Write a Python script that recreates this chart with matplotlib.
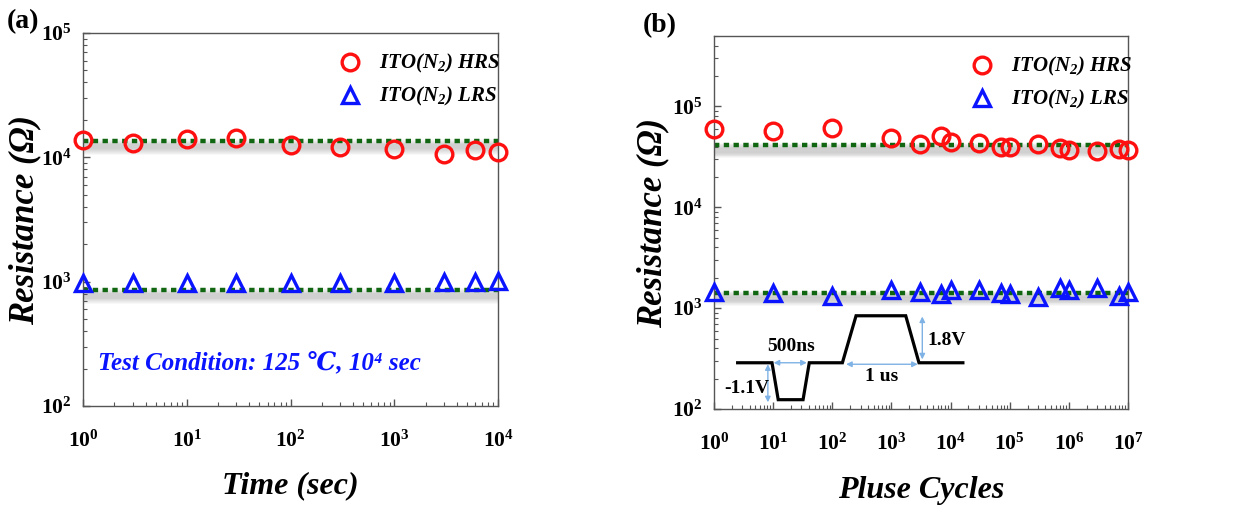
import numpy as np
import matplotlib
matplotlib.use("Agg")
import matplotlib.pyplot as plt
from matplotlib import transforms
from matplotlib.lines import Line2D
from matplotlib.ticker import LogLocator, NullFormatter

plt.rcParams['font.family'] = ['Liberation Serif', 'DejaVu Serif']
plt.rcParams['mathtext.default'] = 'regular'

# ---------------- data ----------------
time_a = [1, 3, 10, 30, 100, 300, 1000, 3000, 6000, 10000]
hrs_a = [13700, 13100, 14100, 14200, 12600, 12200, 11700, 10700, 11500, 11000]
lrs_a = [975, 975, 975, 975, 975, 975, 975, 1000, 1000, 1005]
hrs_a_fit = 13450
lrs_a_fit = 850

cycles_b = [1, 10, 100, 1000, 3000, 7000, 1e4, 3e4, 7e4, 1e5, 3e5, 7e5, 1e6, 3e6, 7e6, 1e7]
hrs_b = [59600, 57200, 61800, 49200, 42200, 51100, 44600, 43300, 40100, 40100,
         42200, 39100, 37100, 36200, 38300, 37100]
lrs_b = [1440, 1420, 1320, 1510, 1440, 1370, 1510, 1510, 1420, 1370,
         1300, 1590, 1530, 1570, 1320, 1440]
hrs_b_fit = 41600
lrs_b_fit = 1420

legend_labels = [r'ITO(N$_{2}$) HRS', r'ITO(N$_{2}$) LRS']

# inset pulse shape (axes fraction)
pulse_x = [0.057, 0.140, 0.155, 0.215, 0.230, 0.310, 0.343, 0.463, 0.495, 0.601]
pulse_y = [0.124, 0.124, 0.025, 0.025, 0.124, 0.124, 0.250, 0.250, 0.124, 0.124]

RED = '#ff1010'
BLUE = '#0a14ff'
GREEN = '#116611'
ARROW = '#7fb2e5'

fig = plt.figure(figsize=(12.6, 5.13), dpi=100)
ax_a = fig.add_axes([0.0659, 0.2086, 0.3294, 0.7271])
ax_b = fig.add_axes([0.5667, 0.2027, 0.3286, 0.7271])

tick_font = dict(family=['Liberation Serif', 'DejaVu Serif'], weight='bold', size=15.5)


def fit_line(ax, x0, x1, y):
    # soft shadow below the line
    for k in range(1, 13):
        tr = transforms.offset_copy(ax.transData, fig=fig, x=0, y=-k * 0.85, units='dots')
        ax.plot([x0, x1], [y, y], color='#7a7a7a', alpha=0.06, lw=4,
                solid_capstyle='butt', transform=tr, zorder=1)
    ax.plot([x0, x1], [y, y], color=GREEN, lw=3.2, linestyle=(0, (1.2, 1.0)),
            zorder=2, dash_capstyle='butt')


def style_axes(ax, xmin, xmax, ymin, ymax):
    ax.set_xscale('log')
    ax.set_yscale('log')
    ax.set_xlim(xmin, xmax)
    ax.set_ylim(ymin, ymax)
    for s in ax.spines.values():
        s.set_color('#555555')
        s.set_linewidth(1.0)
    ax.xaxis.set_major_locator(LogLocator(base=10, numticks=20))
    ax.xaxis.set_minor_locator(LogLocator(base=10, subs=np.arange(2, 10), numticks=20))
    ax.yaxis.set_major_locator(LogLocator(base=10, numticks=20))
    ax.yaxis.set_minor_locator(LogLocator(base=10, subs=np.arange(2, 10), numticks=20))
    ax.xaxis.set_minor_formatter(NullFormatter())
    ax.yaxis.set_minor_formatter(NullFormatter())
    ax.tick_params(which='both', direction='in', top=False, right=False, color='#555555')
    ax.tick_params(which='major', length=5, width=1)
    ax.tick_params(which='minor', length=3, width=0.8)
    ax.tick_params(axis='x', which='both', pad=18)
    ax.tick_params(axis='y', which='both', pad=8)
    for lab in ax.get_xticklabels() + ax.get_yticklabels():
        lab.set_fontproperties(matplotlib.font_manager.FontProperties(**tick_font))


def add_legend(ax, anchor):
    h = [Line2D([], [], marker='o', ls='none', mfc='none', mec=RED, mew=2.4, ms=12),
         Line2D([], [], marker='^', ls='none', mfc='none', mec=BLUE, mew=2.4, ms=11)]
    ax.legend(h, legend_labels, loc='upper left', bbox_to_anchor=anchor,
              frameon=False, handlelength=1.0, handletextpad=0.9, borderpad=0,
              borderaxespad=0, labelspacing=0.48,
              prop=dict(family=['Liberation Serif', 'DejaVu Serif'], weight='bold',
                        style='italic', size=15))


# ---------------- panel (a) ----------------
style_axes(ax_a, 1, 1e4, 1e2, 1e5)
fit_line(ax_a, 1, 1e4, hrs_a_fit)
fit_line(ax_a, 1, 1e4, lrs_a_fit)
ax_a.plot(time_a, hrs_a, ls='none', marker='o', mfc='none', mec=RED, mew=2.4, ms=12,
          zorder=4, clip_on=False)
ax_a.plot(time_a, lrs_a, ls='none', marker='^', mfc='none', mec=BLUE, mew=2.4, ms=11,
          zorder=4, clip_on=False)
add_legend(ax_a, (0.617, 0.948))
ax_a.set_xlabel('Time (sec)', fontsize=23, weight='bold', style='italic', labelpad=14)
ax_a.set_ylabel('Resistance (Ω)', fontsize=25, weight='bold', style='italic', labelpad=0)
ax_a.text(0.035, 0.095, 'Test Condition: 125 ℃, 10⁴ sec', transform=ax_a.transAxes,
          color=BLUE, fontsize=18, weight='bold', style='italic',
          family=['Liberation Serif', 'DejaVu Serif'])
fig.text(0.018, 0.957, '(a)', fontsize=20, weight='bold', ha='center', va='center')

# ---------------- panel (b) ----------------
style_axes(ax_b, 1, 1e7, 1e2, 5e5)
fit_line(ax_b, 1, 1e7, hrs_b_fit)
fit_line(ax_b, 1, 1e7, lrs_b_fit)
ax_b.plot(cycles_b, hrs_b, ls='none', marker='o', mfc='none', mec=RED, mew=2.4, ms=12,
          zorder=4, clip_on=False)
ax_b.plot(cycles_b, lrs_b, ls='none', marker='^', mfc='none', mec=BLUE, mew=2.4, ms=11,
          zorder=4, clip_on=False)
add_legend(ax_b, (0.622, 0.948))
ax_b.set_xlabel('Pluse Cycles', fontsize=23, weight='bold', style='italic', labelpad=15)
ax_b.set_ylabel('Resistance (Ω)', fontsize=25, weight='bold', style='italic', labelpad=2)
fig.text(0.524, 0.951, '(b)', fontsize=20, weight='bold', ha='center', va='center')

# inset pulse waveform
ax_b.plot(pulse_x, pulse_y, color='black', lw=2.3, transform=ax_b.transAxes, zorder=3,
          solid_joinstyle='miter')


def dbl_arrow(ax, p0, p1):
    ax.annotate('', xy=p1, xytext=p0, xycoords='axes fraction', textcoords='axes fraction',
                arrowprops=dict(arrowstyle='<|-|>', color=ARROW, lw=1.0,
                                mutation_scale=8, shrinkA=0, shrinkB=0))


dbl_arrow(ax_b, (0.144, 0.124), (0.224, 0.124))
dbl_arrow(ax_b, (0.130, 0.120), (0.130, 0.018))
dbl_arrow(ax_b, (0.319, 0.120), (0.492, 0.120))
dbl_arrow(ax_b, (0.503, 0.248), (0.503, 0.133))
lbl = dict(fontsize=14, weight='bold', ha='center', va='center', transform=ax_b.transAxes)
ax_b.text(0.186, 0.168, '500ns', **lbl)
ax_b.text(0.079, 0.056, '-1.1V', **lbl)
ax_b.text(0.405, 0.088, '1 us', **lbl)
ax_b.text(0.562, 0.183, '1.8V', **lbl)

fig.savefig('out.png', dpi=100)
